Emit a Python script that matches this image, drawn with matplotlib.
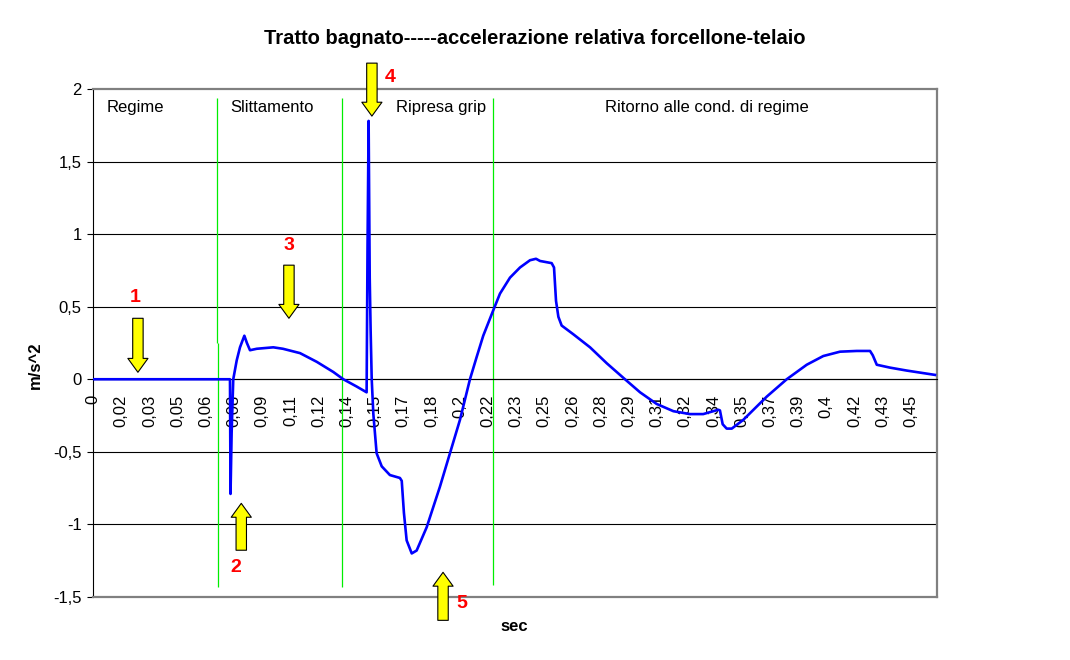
import numpy as np
import matplotlib
matplotlib.use("Agg")
import matplotlib.pyplot as plt

plt.rcParams['font.family'] = ['Liberation Sans', 'DejaVu Sans']

# curve: time (s), acceleration (m/s^2)
t = [0.0, 0.0753, 0.0756, 0.0762, 0.0771, 0.0790, 0.0808, 0.0832, 0.0846, 0.0863,
     0.0900, 0.0991, 0.1044, 0.1138, 0.1230, 0.1321, 0.1376, 0.1449, 0.1504, 0.1509,
     0.1515, 0.1521, 0.1526, 0.1532, 0.1541, 0.1559, 0.1587, 0.1632, 0.1687, 0.1697,
     0.1709, 0.1724, 0.1752, 0.1779, 0.1834, 0.1907, 0.1962, 0.2017, 0.2072, 0.2108,
     0.2145, 0.2200, 0.2237, 0.2292, 0.2347, 0.2402, 0.2435, 0.2457, 0.2521, 0.2534,
     0.2545, 0.2558, 0.2576, 0.2640, 0.2732, 0.2824, 0.2924, 0.3007, 0.3098, 0.3190,
     0.3281, 0.3354, 0.3437, 0.3446, 0.3461, 0.3483, 0.3511, 0.3574, 0.3703, 0.3813,
     0.3923, 0.4014, 0.4106, 0.4198, 0.4271, 0.4286, 0.4308, 0.4381, 0.4472, 0.4628]
acc = [0.0, 0.0, -0.79, -0.37, 0.0, 0.13, 0.22, 0.30, 0.25, 0.20,
       0.21, 0.22, 0.21, 0.18, 0.12, 0.05, 0.0, -0.05, -0.09, 0.91,
       1.78, 0.70, 0.34, 0.0, -0.24, -0.51, -0.60, -0.66, -0.68, -0.70,
       -0.92, -1.11, -1.20, -1.18, -1.02, -0.74, -0.51, -0.28, 0.0, 0.15,
       0.30, 0.475, 0.59, 0.70, 0.77, 0.82, 0.83, 0.815, 0.80, 0.77,
       0.54, 0.43, 0.37, 0.31, 0.22, 0.11, 0.0, -0.09, -0.17, -0.22,
       -0.24, -0.24, -0.21, -0.215, -0.31, -0.34, -0.34, -0.28, -0.12, 0.0,
       0.10, 0.16, 0.19, 0.195, 0.195, 0.165, 0.10, 0.08, 0.06, 0.03]

xtick_labels = ['0', '0,02', '0,03', '0,05', '0,06', '0,08', '0,09', '0,11', '0,12', '0,14',
                '0,15', '0,17', '0,18', '0,2', '0,22', '0,23', '0,25', '0,26', '0,28', '0,29',
                '0,31', '0,32', '0,34', '0,35', '0,37', '0,39', '0,4', '0,42', '0,43', '0,45']
xtick_step = 0.0155
yticks = [-1.5, -1, -0.5, 0, 0.5, 1, 1.5, 2]
ytick_labels = ['-1,5', '-1', '-0,5', '0', '0,5', '1', '1,5', '2']

# phase separators
phase_x = [0.0684, 0.1369, 0.2199]
phase_names = ['Regime', 'Slittamento', 'Ripresa grip', 'Ritorno alle cond. di regime']
phase_name_x = [0.0231, 0.0984, 0.1913, 0.3375]

# numbered arrows: x, tail y, tip y, label x, label y
arrow_x = [0.0247, 0.0815, 0.1077, 0.1533, 0.1924]
arrow_tail = [0.42, -1.178, 0.786, 2.178, -1.661]
arrow_tip = [0.048, -0.855, 0.42, 1.813, -1.33]
num_x = [0.0231, 0.0786, 0.1077, 0.1632, 0.2028]
num_y = [0.565, -1.296, 0.923, 2.081, -1.544]

fig = plt.figure(figsize=(10.7, 6.6), dpi=100)
ax = fig.add_axes([0.0869, 0.0955, 0.7888, 0.7697])

# x axis crosses at y = 0 (set before ticks, it resets them)
ax.spines['bottom'].set_position(('data', 0))
ax.set_xlim(0, 0.4639)
ax.set_ylim(-1.5, 2)

for yv in yticks[1:-1]:
    ax.axhline(yv, color='black', lw=0.8, zorder=1)

ax.plot(t, acc, color='#0000ff', lw=1.9, zorder=3)

green = '#00ee00'
ax.vlines(phase_x[0] - 0.0002, 0.25, 1.94, color=green, lw=0.9, zorder=2)
ax.vlines(phase_x[0] + 0.0003, -1.433, 0.25, color=green, lw=0.9, zorder=2)
ax.vlines(phase_x[1], -1.433, 1.94, color=green, lw=0.9, zorder=2)
ax.vlines(phase_x[2], -1.42, 1.94, color=green, lw=0.9, zorder=2)

for name, xx in zip(phase_names, phase_name_x):
    ax.text(xx, 1.87, name, ha='center', va='center', fontsize=12)

for i in range(len(arrow_x)):
    ax.annotate('', xy=(arrow_x[i], arrow_tip[i]), xytext=(arrow_x[i], arrow_tail[i]),
                annotation_clip=False,
                arrowprops=dict(arrowstyle='simple,head_length=1.0,head_width=1.45,tail_width=0.75',
                                fc='yellow', ec='black', lw=0.8, shrinkA=0, shrinkB=0,
                                mutation_scale=10), zorder=5)
    ax.text(num_x[i], num_y[i], str(i + 1), color='red', fontsize=14, fontweight='bold',
            ha='center', va='center', clip_on=False, zorder=6)

ax.set_yticks(yticks)
ax.set_yticklabels(ytick_labels, fontsize=12)
ax.tick_params(axis='y', direction='out', length=4, width=0.8, pad=4)

ax.set_xticks([i * xtick_step for i in range(len(xtick_labels))])
ax.set_xticklabels(xtick_labels, fontsize=12)
ax.tick_params(axis='x', length=0, pad=11, labelrotation=90)

ax.spines['bottom'].set_color('black')
ax.spines['bottom'].set_linewidth(0.8)
ax.spines['left'].set_color('black')
ax.spines['left'].set_linewidth(0.8)
for s in ['top', 'right']:
    ax.spines[s].set_color('#808080')
    ax.spines[s].set_linewidth(1.6)
ax.axhline(-1.5, color='#808080', lw=1.6, clip_on=False, zorder=4)

fig.text(0.5, 0.942, 'Tratto bagnato-----accelerazione relativa forcellone-telaio',
         ha='center', va='center', fontsize=14.5, fontweight='bold')
fig.text(0.0327, 0.447, 'm/s^2', rotation=90, ha='center', va='center',
         fontsize=12, fontweight='bold')
fig.text(0.481, 0.0515, 'sec', ha='center', va='center', fontsize=12, fontweight='bold')

fig.savefig('out.png', dpi=100)
